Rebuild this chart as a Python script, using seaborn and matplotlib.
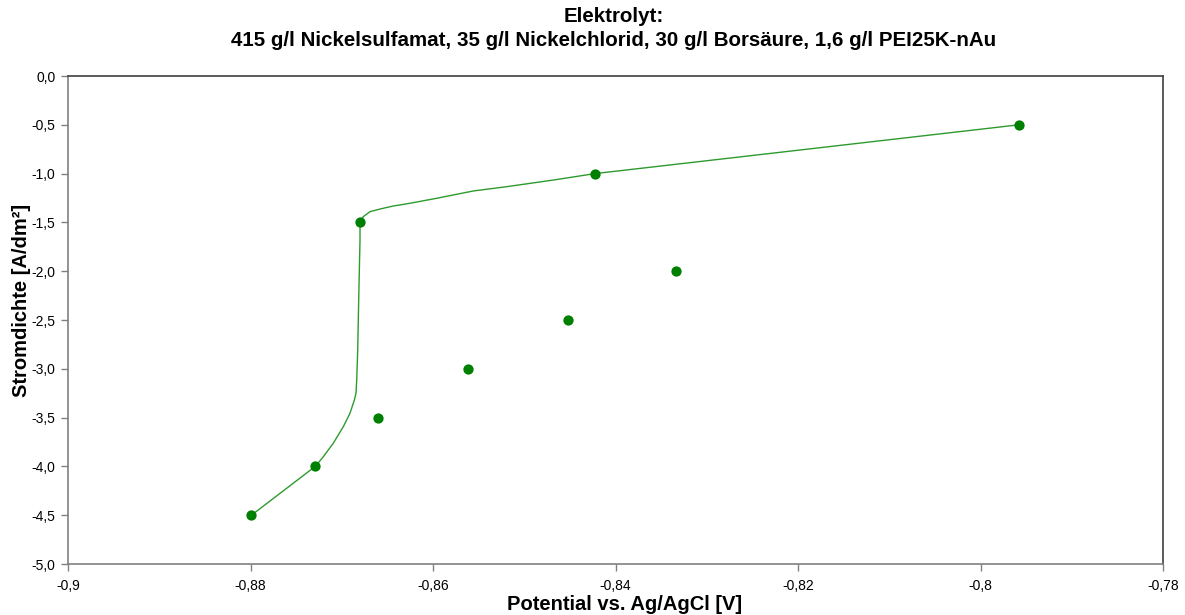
import matplotlib
matplotlib.use("Agg")
import matplotlib.pyplot as plt
import seaborn as sns
import pandas as pd
from matplotlib.ticker import FuncFormatter, MultipleLocator

# Measured points (potential V, current density A/dm²)
point_potential = [-0.7958, -0.8423, -0.8680, -0.8334, -0.8452, -0.8562, -0.8660, -0.8729, -0.8799]
point_current = [-0.5, -1.0, -1.5, -2.0, -2.5, -3.0, -3.5, -4.0, -4.5]

# Smoothed curve
curve_potential = [-0.8799, -0.8729, -0.87202, -0.87093, -0.86983, -0.86910, -0.86862,
                   -0.86844, -0.86836, -0.86825, -0.86815, -0.8680, -0.8680,
                   -0.86764, -0.86690, -0.86581, -0.86435, -0.86252, -0.85960,
                   -0.85558, -0.85192, -0.84682, -0.84225, -0.79578]
curve_current = [-4.5, -4.0, -3.901, -3.763, -3.593, -3.456, -3.320,
                 -3.251, -3.115, -2.807, -2.326, -1.68, -1.5,
                 -1.441, -1.390, -1.363, -1.332, -1.304, -1.253,
                 -1.178, -1.134, -1.066, -1.0, -0.5]

title_lines = ["Elektrolyt:",
               "415 g/l Nickelsulfamat, 35 g/l Nickelchlorid, 30 g/l Borsäure, 1,6 g/l PEI25K-nAu"]
x_label = "Potential vs. Ag/AgCl [V]"
y_label = "Stromdichte [A/dm²]"

sns.set_style("white")
plt.rcParams["font.family"] = ["Liberation Sans", "DejaVu Sans"]
plt.rcParams["text.color"] = "black"
plt.rcParams["axes.labelcolor"] = "black"

fig = plt.figure(figsize=(11.85, 6.15), dpi=100)
ax = fig.add_axes([68 / 1185, 1 - 564 / 615, (1163 - 68) / 1185, (564 - 76) / 615])

curve_df = pd.DataFrame({"x": curve_potential, "y": curve_current})
points_df = pd.DataFrame({"x": point_potential, "y": point_current})

sns.lineplot(data=curve_df, x="x", y="y", sort=False, estimator=None, ax=ax,
             color="#2e9a2e", linewidth=1.0)
sns.scatterplot(data=points_df, x="x", y="y", ax=ax, color="#008000", s=55,
                edgecolor="#008000", linewidth=0, zorder=5)

ax.set_xlim(-0.9, -0.78)
ax.set_ylim(-5.0, 0.0)
ax.xaxis.set_major_locator(MultipleLocator(0.02))
ax.yaxis.set_major_locator(MultipleLocator(0.5))


def fmt_x(v, pos):
    s = f"{v:.2f}".rstrip("0").rstrip(".")
    return s.replace(".", ",")


def fmt_y(v, pos):
    return f"{v:.1f}".replace(".", ",")


ax.xaxis.set_major_formatter(FuncFormatter(fmt_x))
ax.yaxis.set_major_formatter(FuncFormatter(fmt_y))

ax.tick_params(axis="both", which="major", direction="out", length=5, width=1,
               color="#808080", labelsize=10, labelcolor="black", pad=4,
               bottom=True, left=True)
ax.tick_params(axis="x", pad=6)

for side in ["left", "bottom"]:
    ax.spines[side].set_color("#808080")
    ax.spines[side].set_linewidth(1.2)
for side in ["top", "right"]:
    ax.spines[side].set_color("#404040")
    ax.spines[side].set_linewidth(1.2)
    ax.spines[side].set_visible(True)

ax.set_xlabel(x_label, fontsize=14.5, fontweight="bold", color="black")
ax.set_ylabel(y_label, fontsize=14.5, fontweight="bold", color="black")
axw = 1163 - 68
axh = 564 - 76
ax.xaxis.set_label_coords((625 - 68) / axw, -(604 - 564) / axh)
ax.xaxis.label.set_va("center")
ax.yaxis.set_label_coords(-(68 - 22) / axw, (564 - 300) / axh)
ax.yaxis.label.set_ha("center")
ax.yaxis.label.set_va("center")

fig.text(614 / 1185, 1 - 16 / 615, title_lines[0], ha="center", va="center",
         fontsize=14.8, fontweight="bold", color="black")
fig.text(614 / 1185, 1 - 40 / 615, title_lines[1], ha="center", va="center",
         fontsize=14.8, fontweight="bold", color="black")

fig.savefig("out.png", dpi=100, facecolor="white")
